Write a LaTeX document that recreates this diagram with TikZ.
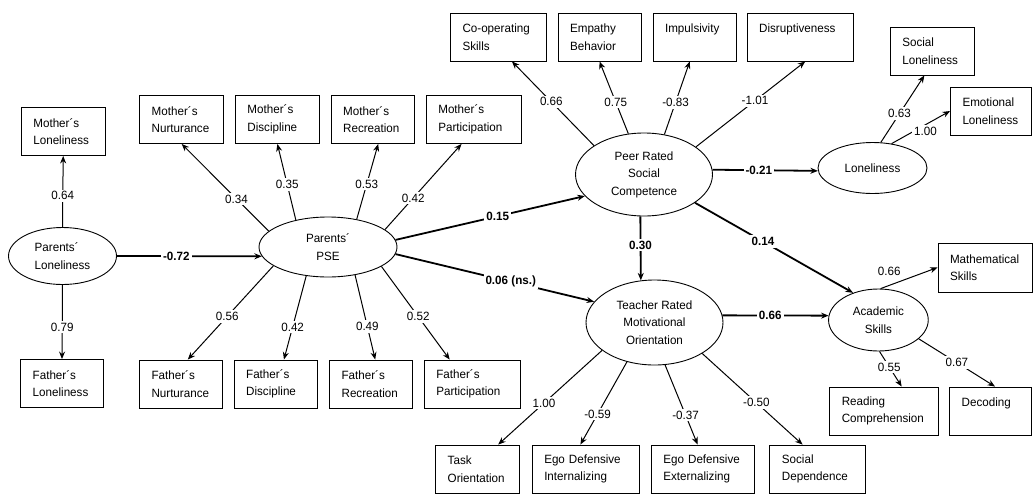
\documentclass[tikz,border=0pt]{standalone}
\usepackage{fontspec}
\setmainfont{Liberation Sans}[FakeStretch=0.97]
\usepackage{tikz}
\usetikzlibrary{arrows.meta, shapes.geometric}
\tikzstyle{box} = [rectangle, draw=black, line width=0.9pt, align=left, inner xsep=12pt, inner ysep=0pt, minimum height=48, font=\fontsize{12}{17.5}\selectfont]
\tikzstyle{latent} = [ellipse, draw=black, line width=0.9pt, align=center, inner sep=0pt, font=\fontsize{12}{17.5}\selectfont]
\tikzstyle{arrow} = [line width=1pt, -{Stealth[length=7.5pt,width=6pt]}]
\tikzstyle{mainarrow} = [arrow, line width=1.8pt]
\tikzstyle{coef} = [fill=white, inner sep=2pt, font=\fontsize{12}{14}\selectfont]
\tikzstyle{maincoef} = [coef, font=\fontsize{12}{14}\selectfont\bfseries]

\begin{document}
\begin{tikzpicture}[x=1pt, y=-1pt]
    \useasboundingbox (0,0) rectangle (1033,493);

    % Parents' loneliness
    \node (pl) [latent, minimum width=108, minimum height=57, align=left] at (62.5,256) {Parents´\\Loneliness};
    \node (mlon) [box, text width=59.7] at (63.2,131.5) {Mother´s\\Loneliness};
    \node (flon) [box, text width=58.6] at (62,383.5) {Father´s\\Loneliness};

    % Parents' PSE
    \node (pse) [latent, minimum width=138, minimum height=60] at (328,247) {Parents´\\PSE};
    \node (mnur) [box, text width=60] at (181.7,119.5) {Mother´s\\Nurturance};
    \node (mdis) [box, text width=60] at (277.4,119.5) {Mother´s\\Discipline};
    \node (mrec) [box, text width=59.7] at (373,119.5) {Mother´s\\Recreation};
    \node (mpar) [box, text width=71.4] at (474,119.5) {Mother´s\\Participation};
    \node (fnur) [box, text width=58.6] at (180.8,384) {Father´s\\Nurturance};
    \node (fdis) [box, text width=59.7] at (276,384) {Father´s\\Discipline};
    \node (frec) [box, text width=58.6] at (370.9,384) {Father´s\\Recreation};
    \node (fpar) [box, text width=72.4] at (472.5,384) {Father´s\\Participation};

    % Peer rated social competence
    \node (prsc) [latent, minimum width=137, minimum height=83] at (644,174.5) {Peer Rated\\Social\\Competence};
    \node (coop) [box, text width=71.8] at (498.4,37) {Co-operating\\Skills};
    \node (emp) [box, text width=58.9] at (599.5,37) {Empathy\\Behavior};
    \node (imp) [box, text width=58.9] at (694.5,37) {Impulsivity\\\mbox{}};
    \node (dis) [box, text width=82.7] at (800.5,37) {Disruptiveness\\\mbox{}};

    % Loneliness
    \node (lon) [latent, minimum width=109, minimum height=51] at (872.5,168) {Loneliness};
    \node (slon) [box, text width=60] at (932.3,51) {Social\\Loneliness};
    \node (elon) [box, text width=57] at (991,111) {Emotional\\Loneliness};

    % Teacher rated motivational orientation
    \node (trmo) [latent, minimum width=137, minimum height=85] at (654.5,322.5) {Teacher Rated\\Motivational\\Orientation};
    \node (task) [box, text width=60] at (477.7,469) {Task\\Orientation};
    \node (edi) [box, text width=82.7] at (585.6,469) {Ego Defensive\\Internalizing};
    \node (ede) [box, text width=78.8] at (702.8,469) {Ego Defensive\\Externalizing};
    \node (sdep) [box, text width=71.8] at (817.8,469) {Social\\Dependence};

    % Academic skills
    \node (acs) [latent, minimum width=99.7, minimum height=62] at (878.4,320) {Academic\\Skills};
    \node (math) [box, text width=70, minimum height=49] at (985,267.5) {Mathematical\\Skills};
    \node (read) [box, text width=84.3] at (883.9,411) {Reading\\Comprehension};
    \node (dec) [box, text width=58] at (990.7,411) {Decoding\\\mbox{}};

    % Measurement paths
    \draw [arrow] (pl.north) -- node[coef, pos=0.44] {0.64} (mlon.south);
    \draw [arrow] (pl.south) -- node[coef, pos=0.57] {0.79} (flon.north);

    \draw [arrow] (pse.165) -- node[coef, pos=0.37] {0.34} (mnur.south);
    \draw [arrow] (pse.140) -- node[coef, pos=0.47] {0.35} (mdis.south);
    \draw [arrow] (pse.44) -- node[coef, pos=0.47] {0.53} (mrec.-78);
    \draw [arrow] (pse.17) -- node[coef, pos=0.37] {0.42} (mpar.-117);
    \draw [arrow] (pse.199) -- node[coef, pos=0.54] {0.56} (fnur.74);
    \draw [arrow] (pse.233) -- node[coef, pos=0.61] {0.42} (fdis.72);
    \draw [arrow] (pse.314) -- node[coef, pos=0.61] {0.49} (frec.80);
    \draw [arrow] (pse.340) -- node[coef, pos=0.54] {0.52} (fpar.133);

    \draw [arrow] (prsc.150) -- node[coef, pos=0.52] {0.66} (coop.-61);
    \draw [arrow] (prsc.111) -- node[coef, pos=0.44] {0.75} (emp.south);
    \draw [arrow] (prsc.63) -- node[coef, pos=0.44] {-0.83} (imp.-101);
    \draw [arrow] (prsc.28) -- node[coef, pos=0.54] {-1.01} (dis.-79);

    \draw [arrow] (lon.72) -- node[coef, pos=0.43] {0.63} (slon.-108);
    \draw [arrow] (lon.52) -- node[coef, pos=0.58, yshift=-7pt] {1.00} (elon.west);

    \draw [arrow] (trmo.208) -- node[coef, pos=0.56] {1.00} (task.50);
    \draw [arrow] (trmo.235) -- node[coef, pos=0.63] {-0.59} (edi.102);
    \draw [arrow] (trmo.284) -- node[coef, pos=0.63] {-0.37} (ede.102);
    \draw [arrow] (trmo.327) -- node[coef, pos=0.54] {-0.50} (sdep.122);

    \draw [arrow] (acs.86) -- node[coef, pos=0.15, above=7pt, fill=none] {0.66} (math.west);
    \draw [arrow] (acs.272) -- node[coef, pos=0.44] {0.55} (read.54);
    \draw [arrow] (acs.-25) -- node[coef, pos=0.5] {0.67} (dec.80);

    % Structural paths
    \draw [mainarrow] (pl.east) -- node[maincoef, pos=0.41] {-0.72} (pse.188);
    \draw [mainarrow] (pse.6) -- node[maincoef, pos=0.54] {0.15} (prsc.200);
    \draw [mainarrow] (pse.354) -- node[maincoef, pos=0.58] {0.06 (ns.)} (trmo.161);
    \draw [mainarrow] (prsc.4) -- node[maincoef, pos=0.44] {-0.21} (lon.183);
    \draw [mainarrow] (prsc.265) -- node[maincoef, pos=0.45] {0.30} (trmo.108);
    \draw [mainarrow] (prsc.331) -- node[maincoef, pos=0.43] {0.14} (acs.133);
    \draw [mainarrow] (trmo.6) -- node[maincoef, pos=0.45] {0.66} (acs.175);
\end{tikzpicture}
\end{document}
